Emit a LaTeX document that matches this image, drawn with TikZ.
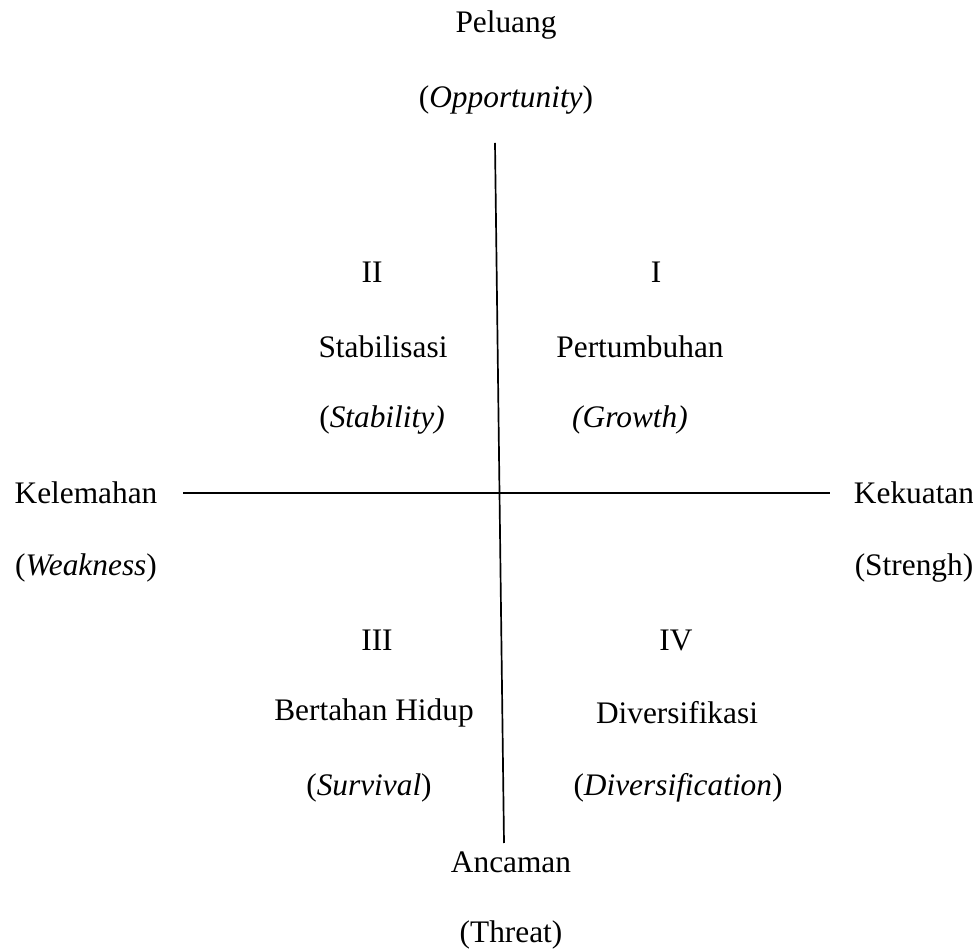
\documentclass[tikz,border=0pt]{standalone}
\usepackage{fontspec}
\setmainfont{Liberation Serif}
\usepackage{tikz}
\usetikzlibrary{calc}

\begin{document}
\begin{tikzpicture}[every node/.style={inner sep=0pt, text=black, font=\fontsize{22.3}{26}\selectfont}]
\useasboundingbox (0,0) rectangle (24.325,23.75);
\path
(12.65,23.125) node (peluang) {Peluang};
\path
(12.65,21.25) node (opportunity) {(\textit{Opportunity})};
\path
(9.3,16.95) node (kuadII) {II};
\path
(16.4,16.95) node (kuadI) {I};
\path
(9.575,15.075) node (stabilisasi) {Stabilisasi};
\path
(16.0,15.075) node (pertumbuhan) {Pertumbuhan};
\path
(9.55,13.25) node (stability) {(\textit{Stability)}};
\path
(15.75,13.25) node (growth) {\textit{(Growth)}};
\path
(2.15,11.425) node (kelemahan) {Kelemahan};
\path
(22.85,11.425) node (kekuatan) {Kekuatan};
\path
(2.15,9.55) node (weakness) {(\textit{Weakness})};
\path
(22.85,9.55) node (strengh) {(Strengh)};
\path
(9.425,7.75) node (kuadIII) {III};
\path
(16.9,7.75) node (kuadIV) {IV};
\path
(9.35,5.925) node (bertahan) {Bertahan Hidup};
\path
(16.925,5.925) node (diversifikasi) {Diversifikasi};
\path
(9.225,4.05) node (survival) {(\textit{Survival})};
\path
(16.95,4.05) node (diversification) {(\textit{Diversification})};
\path
(12.775,2.2) node (ancaman) {Ancaman};
\path
(12.775,0.375) node (threat) {(Threat)};
\coordinate (vtop) at (12.375,20.175);
\coordinate (vbot) at (12.6,2.675);
\coordinate (hleft) at (4.575,11.425);
\coordinate (hright) at (20.75,11.425);
\draw [black, line width = 1.2] (vtop) -- (vbot);
\draw [black, line width = 1.2] (hleft) -- (hright);
\end{tikzpicture}
\end{document}
